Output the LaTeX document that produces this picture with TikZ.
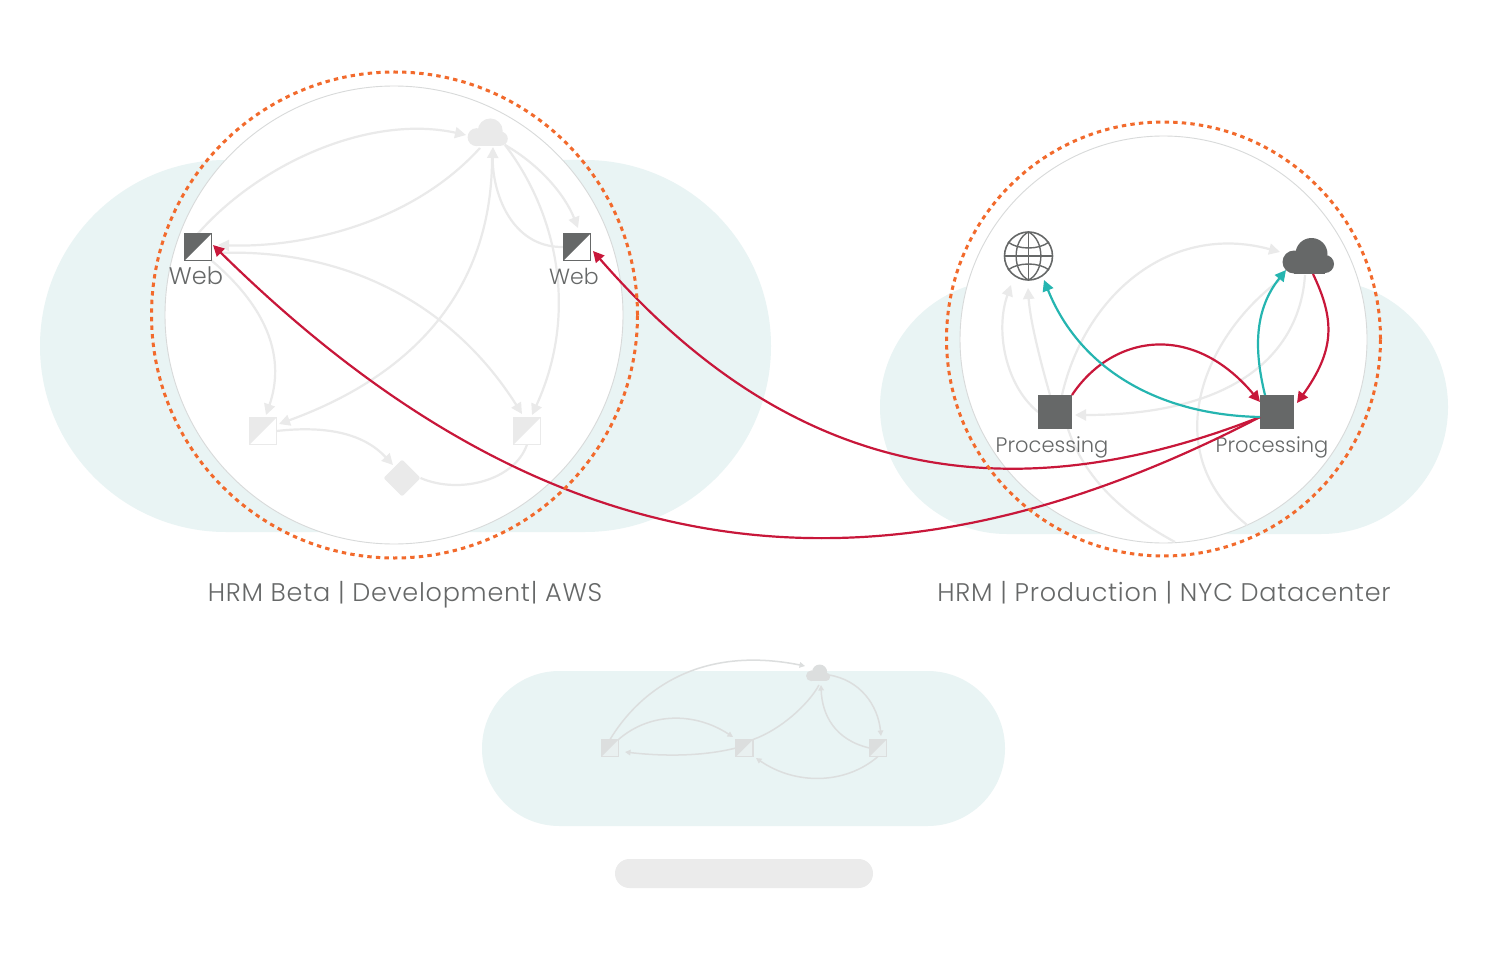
\documentclass[tikz,border=0pt]{standalone}
\usepackage{fontspec}
\setmainfont{Poppins Light}
\newfontfamily\titlefont[LetterSpace=2.9]{Poppins Light}
\usetikzlibrary{arrows.meta,shapes.geometric}
\definecolor{blob}{HTML}{E9F4F4}
\definecolor{ringc}{HTML}{D8DADA}
\definecolor{orangec}{HTML}{F26A2C}
\definecolor{fadec}{HTML}{EAEAEA}
\definecolor{fadeb}{HTML}{DCDEDE}
\definecolor{darkc}{HTML}{666868}
\definecolor{redc}{HTML}{C8173A}
\definecolor{tealc}{HTML}{25B5B0}
\definecolor{pillc}{HTML}{EBEBEB}
\pgfdeclarelayer{base}
\pgfdeclarelayer{faintl}
\pgfsetlayers{base,faintl,main}
\tikzset{
  blobshape/.style={fill=blob,draw=none},
  ring/.style={circle,draw=ringc,fill=white,line width=0.9pt,inner sep=0pt,outer sep=0pt},
  orangering/.style={circle,draw=orangec,line width=3pt,dash pattern=on 4.4pt off 4.2pt,inner sep=0pt,outer sep=0pt},
  sq/.style={rectangle,inner sep=0pt,outer sep=0pt,minimum size=#1,line width=1.4pt},
  faint/.style={draw=fadec,line width=2.2pt,-{Triangle[length=11pt,width=11pt]}},
  faintplain/.style={draw=fadec,line width=2.2pt},
  fainter/.style={draw=fadeb,line width=1.5pt,-{Triangle[length=5.5pt,width=5.5pt]}},
  redline/.style={draw=redc,line width=2.2pt,-{Triangle[length=11pt,width=11pt]}},
  tealline/.style={draw=tealc,line width=2.2pt,-{Triangle[length=11pt,width=11pt]}},
  lbl/.style={text=darkc,inner sep=0pt,font=\fontsize{#1}{#1}\selectfont},
  titlelbl/.style={text=darkc,inner sep=0pt,anchor=base,font=\titlefont\fontsize{25.5}{25.5}\selectfont},
  pics/cloudpic/.style={code={
    \fill[#1] (3.5,-2) circle (16) (-14,6) circle (11.5) (17,8) circle (9);
    \fill[#1] (-14,6) rectangle (17,17.5);
  }}
}
\begin{document}
\begin{tikzpicture}[x=1pt,y=-1pt]
\useasboundingbox (0,0) rectangle (1488,960);
\begin{pgfonlayer}{base}
\fill[white] (0,0) rectangle (1488,960);
\fill[blobshape,rounded corners=186pt] (40,160) rectangle (771,532);
\fill[blobshape,rounded corners=127pt] (880,280) rectangle (1448,534);
\fill[blobshape,rounded corners=77.5pt] (482,671) rectangle (1005,826);
\fill[pillc,rounded corners=14.5pt] (615,859) rectangle (873,888);
\node[ring,minimum size=458pt] (ringL) at (394,315) {};
\node[ring,minimum size=407pt] (ringR) at (1163.5,339.5) {};
\end{pgfonlayer}
% nodes left
\coordinate (cloudL) at (487.5,132.5);
\pic[scale=0.78] at (cloudL) {cloudpic={fadec}};
\node[sq=27pt,draw=darkc,fill=white] (web1) at (198,247) {};
\node[sq=27pt,draw=darkc,fill=white] (web2) at (577,247) {};
\fill[darkc] (web1.north west) -- (web1.north east) -- (web1.south west) -- cycle;
\fill[darkc] (web2.north west) -- (web2.north east) -- (web2.south west) -- cycle;
\node[sq=27pt,draw=fadec,fill=white] (fl) at (263,431) {};
\node[sq=27pt,draw=fadec,fill=white] (fr) at (527,431) {};
\fill[fadec] (fl.north west) -- (fl.north east) -- (fl.south west) -- cycle;
\fill[fadec] (fr.north west) -- (fr.north east) -- (fr.south west) -- cycle;
\node[diamond,fill=fadec,minimum size=37pt,inner sep=0pt,outer sep=0pt,rounded corners=2pt] (dia) at (402,478) {};
% right nodes
\node[sq=34pt,fill=darkc] (p1) at (1055,412) {};
\node[sq=34pt,fill=darkc] (p2) at (1277,412) {};
\coordinate (cloudR) at (1308,256);
\pic at (cloudR) {cloudpic={darkc}};
\node[circle,draw=darkc,line width=1.6pt,minimum size=48pt,inner sep=0pt,outer sep=0pt] (globe) at (1028.5,256) {};
\draw[darkc,line width=1.4pt] (globe.west) -- (globe.east) (globe.north) -- (globe.south);
\draw[darkc,line width=1.4pt] (globe.north) .. controls (1012,240) and (1012,272) .. (globe.south);
\draw[darkc,line width=1.4pt] (globe.north) .. controls (1045,240) and (1045,272) .. (globe.south);
\draw[darkc,line width=1.4pt] (1008,242) .. controls (1018,250) and (1039,250) .. (1049,242);
\draw[darkc,line width=1.4pt] (1008,270) .. controls (1018,262) and (1039,262) .. (1049,270);
% faint connectors
\coordinate (a1) at (466,135);
\coordinate (a2) at (218,245);
\coordinate (a3) at (522,414);
\coordinate (a4) at (266,415);
\coordinate (a5) at (279,424);
\coordinate (a6) at (578,228);
\coordinate (a7) at (532,415);
\coordinate (a8) at (393,465);
\coordinate (a9) at (493,147);
\coordinate (b1) at (480,148);
\coordinate (b2) at (505,145);
\coordinate (b3) at (492,150);
\coordinate (b4) at (218,253);
\coordinate (c1) at (1280,252);
\coordinate (c2) at (1280,280);
\coordinate (c3) at (1305,275);
\coordinate (c4) at (1175,542);
\coordinate (c5) at (1247,525);
\coordinate (c6) at (1011,285);
\coordinate (c7) at (1028,288);
\coordinate (c8) at (1075,415);
\coordinate (c9) at (1062,395);
\coordinate (c10) at (1068,429);
\coordinate (c11) at (1050,395);
\begin{pgfonlayer}{faintl}
\draw[faint] (web1.north) .. controls (260,163) and (370,114) .. (a1);
\draw[faint] (b1) .. controls (410,225) and (300,248) .. (a2);
\draw[faint] (b4) .. controls (340,248) and (450,300) .. (a3);
\draw[faint] (web1.south east) .. controls (270,310) and (285,360) .. (a4);
\draw[faint] (b3) .. controls (495,300) and (400,380) .. (a5);
\draw[faint] (b2) .. controls (540,165) and (565,195) .. (a6);
\draw[faint] (b2) .. controls (555,210) and (580,310) .. (a7);
\draw[faint] (web2.west) .. controls (510,248) and (492,190) .. (a9);
\draw[faint] (fl.east) .. controls (330,425) and (365,435) .. (a8);
\draw[faintplain] (dia.east) .. controls (460,495) and (515,480) .. (fr.south);
\draw[faint] (c9) .. controls (1085,295) and (1170,222) .. (c1);
\draw[faintplain] (c10) .. controls (1085,480) and (1125,515) .. (c4);
\draw[faintplain] (c2) .. controls (1205,335) and (1155,450) .. (c5);
\draw[faint] (c3) .. controls (1300,350) and (1240,415) .. (c8);
\draw[faint] (p1.west) .. controls (1005,385) and (995,330) .. (c6);
\draw[faint] (c11) .. controls (1040,360) and (1030,320) .. (c7);
\end{pgfonlayer}
% bottom graph
\coordinate (cloudB) at (818,673);
\pic[scale=0.47] at (cloudB) {cloudpic={fadeb}};
\node[sq=17pt,draw=fadeb,fill=fadec!40!blob] (s1) at (610,748) {};
\node[sq=17pt,draw=fadeb,fill=fadec!40!blob] (s2) at (744.5,748) {};
\node[sq=17pt,draw=fadeb,fill=fadec!40!blob] (s3) at (878,748) {};
\fill[fadeb] (s1.north west) -- (s1.north east) -- (s1.south west) -- cycle;
\fill[fadeb] (s2.north west) -- (s2.north east) -- (s2.south west) -- cycle;
\fill[fadeb] (s3.north west) -- (s3.north east) -- (s3.south west) -- cycle;
\coordinate (d1) at (805,666);
\coordinate (d2) at (733,737);
\coordinate (d3) at (625,752);
\coordinate (d4) at (819,685);
\coordinate (d5) at (829,675);
\coordinate (d6) at (881,736);
\coordinate (d7) at (821,685);
\coordinate (d8) at (756,758);
\draw[fainter] (s1.north) .. controls (640,690) and (700,645) .. (d1);
\draw[fainter] (s1.north east) .. controls (650,712) and (695,712) .. (d2);
\draw[fainter] (s2.west) .. controls (700,757) and (660,756) .. (d3);
\draw[fainter,-] (s2.north east) .. controls (780,730) and (808,705) .. (d4);
\draw[fainter] (d5) .. controls (860,680) and (878,705) .. (d6);
\draw[fainter] (s3.west) .. controls (835,740) and (822,715) .. (d7);
\draw[fainter] (s3.south) .. controls (845,785) and (795,785) .. (d8);
% labels
\node[lbl=24] (tw1) at (196,276) {Web};
\node[lbl=22] (tw2) at (574,276) {Web};
\node[lbl=21] (tp1) at (1052,447) {Processing};
\node[lbl=21] (tp2) at (1272,447) {Processing};
\node[titlelbl] (tL) at (405,601) {HRM Beta | Development| AWS};
\node[titlelbl] (tR) at (1164,601) {HRM | Production | NYC Datacenter};
% coloured connectors
\coordinate (e1) at (213,245);
\coordinate (e2) at (593,251);
\coordinate (e3) at (1260,402);
\coordinate (e4) at (1297,403);
\coordinate (e5) at (1286,270);
\coordinate (e6) at (1044,280);
\coordinate (o1) at (1313,274);
\coordinate (o2) at (1265,395);
\coordinate (o3) at (1260,417);
\draw[redline] (o3) .. controls (860,625) and (535,562) .. (e1);
\draw[redline] (o3) .. controls (960,535) and (756,438) .. (e2);
\draw[redline] (p1.north east) .. controls (1112,335) and (1192,321) .. (e3);
\draw[redline] (o1) .. controls (1335,320) and (1335,350) .. (e4);
\draw[tealline] (o2) .. controls (1254,350) and (1254,310) .. (e5);
\draw[tealline] (o3) .. controls (1160,415) and (1080,370) .. (e6);
% orange rings
\node[orangering,minimum size=486pt] (orL) at (394.5,315) {};
\node[orangering,minimum size=434pt] (orR) at (1163.5,339) {};
\end{tikzpicture}
\end{document}
